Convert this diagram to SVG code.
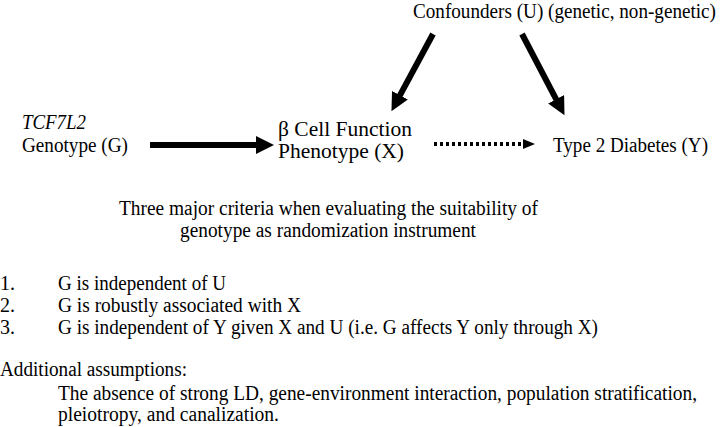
<svg xmlns="http://www.w3.org/2000/svg" width="720" height="427" viewBox="0 0 720 427">
<style>
text{font-family:"Liberation Serif","Times New Roman",serif;font-size:20px;fill:#000}
.it{font-style:italic}
.thick{stroke:#000;stroke-width:6;fill:none}
.dot{stroke:#000;stroke-width:4;stroke-dasharray:3 3;fill:none}
</style>
<defs>
<marker id="ah" markerUnits="userSpaceOnUse" markerWidth="18" markerHeight="18" refX="1" refY="9" orient="auto"><path d="M0,0 L18,9 L0,18 Z" fill="#000"/></marker>
<marker id="ahs" markerUnits="userSpaceOnUse" markerWidth="12" markerHeight="10" refX="1" refY="5" orient="auto"><path d="M0,0 L12,5 L0,10 Z" fill="#000"/></marker>
</defs>
<rect width="720" height="427" fill="#fff"/>
<g id="U"><text x="413" y="18" textLength="303" lengthAdjust="spacingAndGlyphs">Confounders (U) (genetic, non-genetic)</text></g>
<g id="G"><text class="it" x="22" y="129" textLength="64" lengthAdjust="spacingAndGlyphs">TCF7L2</text><text x="22" y="152" textLength="106" lengthAdjust="spacingAndGlyphs">Genotype (G)</text></g>
<g id="X"><text x="278" y="136" textLength="134" lengthAdjust="spacingAndGlyphs">β Cell Function</text><text x="278" y="158" textLength="126" lengthAdjust="spacingAndGlyphs">Phenotype (X)</text></g>
<g id="Y"><text x="553" y="152" textLength="155" lengthAdjust="spacingAndGlyphs">Type 2 Diabetes (Y)</text></g>
<g id="connectors">
<line class="thick" x1="150" y1="145" x2="257" y2="145" marker-end="url(#ah)"/>
<line class="dot" x1="434" y1="144" x2="524" y2="144" marker-end="url(#ahs)"/>
<line class="thick" x1="433" y1="34" x2="399.5" y2="96.2" marker-end="url(#ah)"/>
<line class="thick" x1="522" y1="34" x2="556.6" y2="100.1" marker-end="url(#ah)"/>
</g>
<g id="criteria">
<text x="119" y="215" textLength="419" lengthAdjust="spacingAndGlyphs">Three major criteria when evaluating the suitability of</text>
<text x="180" y="237" textLength="296" lengthAdjust="spacingAndGlyphs">genotype as randomization instrument</text>
<text x="0" y="290">1.</text><text x="58" y="290" textLength="168" lengthAdjust="spacingAndGlyphs">G is independent of U</text>
<text x="0" y="312">2.</text><text x="58" y="312" textLength="243" lengthAdjust="spacingAndGlyphs">G is robustly associated with X</text>
<text x="0" y="334">3.</text><text x="58" y="334" textLength="540" lengthAdjust="spacingAndGlyphs">G is independent of Y given X and U (i.e. G affects Y only through X)</text>
<text x="0" y="376" textLength="187" lengthAdjust="spacingAndGlyphs">Additional assumptions:</text>
<text x="58" y="400" textLength="639" lengthAdjust="spacingAndGlyphs">The absence of strong LD, gene-environment interaction, population stratification,</text>
<text x="58" y="421" textLength="221" lengthAdjust="spacingAndGlyphs">pleiotropy, and canalization.</text>
</g>
</svg>
